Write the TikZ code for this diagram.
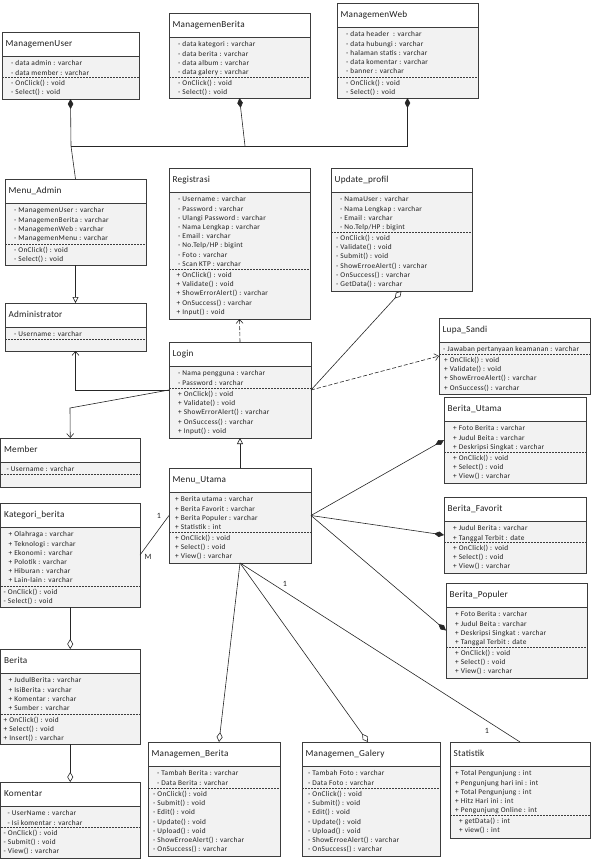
\documentclass[tikz,border=0pt]{standalone}
\usepackage{fontspec}
\setmainfont{Carlito}
\newfontfamily\bodyfont{Carlito}[LetterSpace = 4.5]
\newfontfamily\titlefont{Carlito}[LetterSpace = 2]
\usetikzlibrary{arrows.meta}

\definecolor{boxfill}{HTML}{F2F2F2}
\definecolor{boxline}{HTML}{3C3C3C}
\definecolor{ink}{HTML}{1E1E1E}

\tikzset{
	classbox/.style = {draw = boxline, line width = 0.9pt, inner sep = 0pt, outer sep = 0pt, anchor = north west},
	classname/.style = {anchor = base west, inner sep = 0pt, text = ink, font = \titlefont\fontsize{9.2}{10}\selectfont},
	classtext/.style = {anchor = north west, inner sep = 0pt, align = left, text = ink, font = \bodyfont\fontsize{7.3}{9.2}\selectfont},
	mult/.style = {inner sep = 0pt, text = ink, font = \fontsize{8}{9}\selectfont},
	link/.style = {draw = black!85, line width = 0.6pt},
	compo/.style = {link, -{Diamond[length = 10pt, width = 5.5pt]}},
	aggre/.style = {link, -{Diamond[open, length = 10pt, width = 6pt]}},
	inherit/.style = {link, -{Triangle[open, length = 6pt, width = 6pt]}},
	assoc/.style = {link, -{Straight Barb[length = 4pt, width = 7pt]}},
	depend/.style = {assoc, dash pattern = on 4pt off 2pt}
}

% indent of the attribute and method lines
\newcommand{\attrind}{9}
\newcommand{\methind}{9}
\newcommand{\setind}[2]{\renewcommand{\attrind}{#1}\renewcommand{\methind}{#2}}

% name, left, top, right, bottom, dashed line, title, attributes, methods
\newcommand{\umlclass}[9]{%
	\fill[boxfill] (#2, {#3 + 24}) rectangle (#4, #5);
	\draw[boxline, line width = 0.9pt] (#2, {#3 + 24}) -- (#4, {#3 + 24});
	\draw[boxline, line width = 0.6pt, dash pattern = on 2pt off 1pt] (#2, #6) -- (#4, #6);
	\node[classbox, minimum width = {(#4 - #2)*1pt}, minimum height = {(#5 - #3)*1pt}] (#1) at (#2, #3) {};
	\node[classname] (#1-title) at ({#2 + 3.5}, {#3 + 14.8}) {#7};
	\node[classtext] (#1-attr) at ({#2 + \attrind}, {#3 + 28.6}) {#8};
	\node[classtext] (#1-meth) at ({#2 + \methind}, {#6 + 2.9}) {#9};
	\setind{9}{9}%
}

\begin{document}
\begin{tikzpicture}[x = 1pt, y = -1pt]
		\useasboundingbox (0, 0) rectangle (591, 862);

		\umlclass{mUser}{2}{32}{139}{99}{77}{ManagemenUser}
			{- data admin : varchar\\- data member : varchar}
			{- OnClick() : void\\- Select() : void}
		\umlclass{mBerita}{169}{13}{310}{98}{77}{ManagemenBerita}
			{- data kategori : varchar\\- data berita : varchar\\- data album : varchar\\- data galery : varchar}
			{- OnClick() : void\\- Select() : void}
		\umlclass{mWeb}{337}{3}{478}{98}{77}{ManagemenWeb}
			{- data header~ : varchar\\- data hubungi : varchar\\- halaman statis : varchar\\- data komentar : varchar\\- banner : varchar}
			{- OnClick() : void\\- Select() : void}

		\umlclass{menuAdmin}{5}{179}{146}{265}{244}{Menu\_Admin}
			{- ManagemenUser : varchar\\- ManagemenBerita : varchar\\- ManagemenWeb : varchar\\- ManagemenMenu : varchar}
			{- OnClick() : void\\- Select() : void}
		\umlclass{admin}{5}{303}{146}{351}{339}{Administrator}
			{- Username : varchar}{}

		\setind{9}{7.5}
		\umlclass{registrasi}{169}{168}{310}{319}{269}{Registrasi}
			{- Username : varchar\\- Password : varchar\\- Ulangi Password : varchar\\- Nama Lengkap : varchar\\- Email : varchar\\- No.Telp/HP : bigint\\- Foto : varchar\\- Scan KTP : varchar}
			{+ OnClick() : void\\+ Validate() : void\\+ ShowErrorAlert() : varchar\\+ OnSuccess() : varchar\\+ Input() : void}
		\setind{9}{5}
		\umlclass{updateProfil}{331}{168}{472}{291}{232}{Update\_profil}
			{- NamaUser : varchar\\- Nama Lengkap : varchar\\- Email : varchar\\- No.Telp/HP : bigint}
			{- OnClick() : void\\- Validate() : void\\- Submit() : void\\- ShowErroeAlert() : varchar\\- OnSuccess() : varchar\\- GetData() : varchar}

		\umlclass{login}{169}{342}{311}{438}{388}{Login}
			{- Nama pengguna : varchar\\- Password : varchar}
			{+ OnClick() : void\\+ Validate() : void\\+ ShowErrorAlert() : varchar\\+ OnSuccess() : varchar\\+ Input() : void}
		\setind{4}{5}
		\umlclass{lupaSandi}{439}{318}{590}{394}{354}{Lupa\_Sandi}
			{- Jawaban pertanyaan keamanan : varchar}
			{+ OnClick() : void\\+ Validate() : void\\+ ShowErroeAlert() : varchar\\+ OnSuccess() : varchar}

		\setind{6}{6}
		\umlclass{member}{0.5}{438}{140}{487}{474}{Member}
			{- Username : varchar}{}
		\setind{8}{3}
		\umlclass{kategori}{0.5}{503}{140}{607}{586}{Kategori\_berita}
			{+ Olahraga : varchar\\+ Teknologi : varchar\\+ Ekonomi : varchar\\+ Polotik : varchar\\+ Hiburan : varchar\\+ Lain-lain : varchar}
			{- OnClick() : void\\- Select() : void}
		\setind{8}{3}
		\umlclass{berita}{0.5}{649}{140}{744}{714}{Berita}
			{+ JudulBerita : varchar\\+ IsiBerita : varchar\\+ Komentar : varchar\\+ Sumber : varchar}
			{+ OnClick() : void\\+ Select() : void\\+ Insert() : varchar}
		\setind{7}{3}
		\umlclass{komentar}{0.5}{782}{140}{858}{827}{Komentar}
			{- UserName : varchar\\- Isi komentar : varchar}
			{- OnClick() : void\\- Submit() : void\\- View() : varchar}

		\setind{6}{6}
		\umlclass{menuUtama}{169}{468}{311}{563}{532}{Menu\_Utama}
			{+ Berita utama : varchar\\+ Berita Favorit : varchar\\+ Berita Populer : varchar\\+ Statistik : int}
			{+ OnClick() : void\\+ Select() : void\\+ View() : varchar}

		\umlclass{beritaUtama}{444}{397}{586}{483}{452}{Berita\_Utama}
			{+ Foto Berita : varchar\\+ Judul Beita : varchar\\+ Deskripsi Singkat : varchar}
			{+ OnClick() : void\\+ Select() : void\\+ View() : varchar}
		\umlclass{beritaFavorit}{444}{497}{586}{573}{542}{Berita\_Favorit}
			{+ Judul Berita : varchar\\+ Tanggal Terbit : date}
			{+ OnClick() : void\\+ Select() : void\\+ View() : varchar}
		\umlclass{beritaPopuler}{446}{583}{587}{678}{647}{Berita\_Populer}
			{+ Foto Berita : varchar\\+ Judul Beita : varchar\\+ Deskripsi Singkat : varchar\\+ Tanggal Terbit : date}
			{+ OnClick() : void\\+ Select() : void\\+ View() : varchar}

		\setind{9}{5}
		\umlclass{mgmtBerita}{148}{742}{280}{856}{788}{Managemen\_Berita}
			{- Tambah Berita : varchar\\- Data Berita : varchar}
			{- OnClick() : void\\- Submit() : void\\- Edit() : void\\- Update() : void\\- Upload() : void\\- ShowErroeAlert() : varchar\\- OnSuccess() : varchar}
		\setind{6}{6}
		\umlclass{mgmtGalery}{302}{742}{440}{856}{788}{Managemen\_Galery}
			{- Tambah Foto : varchar\\- Data Foto : varchar}
			{- OnClick() : void\\- Submit() : void\\- Edit() : void\\- Update() : void\\- Upload() : void\\- ShowErroeAlert() : varchar\\- OnSuccess() : varchar}
		\setind{5}{9}
		\umlclass{statistik}{450}{742}{590}{838}{815}{Statistik}
			{+ Total Pengunjung : int\\+ Pengunjung hari ini : int\\+ Total Pengunjung : int\\+ Hitz Hari ini : int\\+ Pengunjung Online : int}
			{+ getData() : int\\+ view() : int}

		% edges
		\coordinate (hub) at (71, 146);
		\coordinate (hubBerita) at (245, 146);
		\coordinate (bendMember) at (70, 408);
		\draw[compo] (menuAdmin.north) -- (hub) -- (mUser.south);
		\draw[compo] (hub) -| (mWeb.south);
		\draw[compo] (hubBerita) -- (mBerita.south);
		\draw[inherit] (menuAdmin.south) -- (admin.north);
		\draw[assoc] (login.west) -| (admin.south);
		\draw[assoc] (login.west) -- (bendMember) -- (member.north);
		\draw[depend] (login.north) -- (registrasi.south);
		\draw[depend] (login.east) -- (lupaSandi.west);
		\draw[aggre] (login.east) -- (updateProfil.south);
		\draw[inherit] (menuUtama.north) -- (login.south);
		\draw[link] (menuUtama.west) -- (kategori.east);
		\draw[aggre] (kategori.south) -- (berita.north);
		\draw[aggre] (berita.south) -- (komentar.north);
		\draw[compo] (menuUtama.east) -- (beritaUtama.west);
		\draw[compo] (menuUtama.east) -- (beritaFavorit.west);
		\draw[compo] (menuUtama.east) -- (beritaPopuler.west);
		\draw[aggre] (menuUtama.south) -- ([xshift = 5pt]mgmtBerita.north);
		\draw[aggre] (menuUtama.south) -- ([xshift = -3pt]mgmtGalery.north);
		\draw[link] (menuUtama.south) -- (statistik.north);

		\node[mult] (multKatOne) at (159, 516) {1};
		\node[mult] (multKatM) at (148, 557) {M};
		\node[mult] (multStatA) at (285, 584) {1};
		\node[mult] (multStatB) at (487, 731) {1};

\end{tikzpicture}
\end{document}
